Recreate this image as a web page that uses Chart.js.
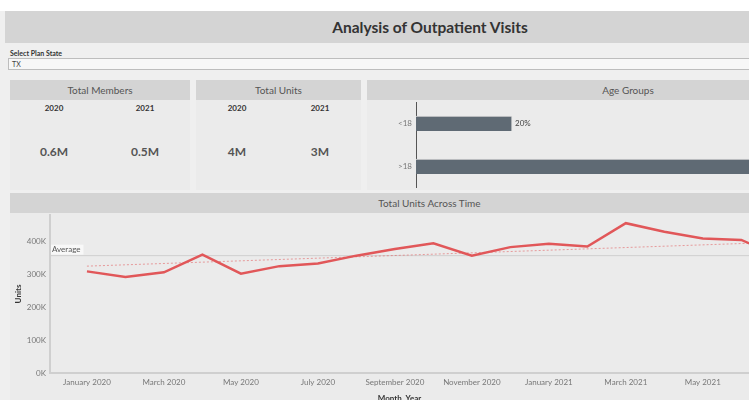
<!DOCTYPE html>
<html lang="en">
<head>
<meta charset="UTF-8" />
<title>Analysis of Outpatient Visits</title>
<script src="https://cdn.jsdelivr.net/npm/chart.js@4.4.1/dist/chart.umd.min.js"></script>
<style>
  html, body { margin: 0; padding: 0; }
  body { width: 749px; height: 400px; overflow: hidden; position: relative; background: #efefef; font-family: Lato, "Open Sans", sans-serif; }
  .abs { position: absolute; }
  .band { background: #d4d4d4; color: #555; font-size: 10px; text-align: center; }
  .yr { font-size: 8px; font-weight: bold; color: #333; width: 60px; text-align: center; }
  .kpi { font-size: 12px; font-weight: bold; color: #555; width: 60px; text-align: center; }
</style>
</head>
<body>
  <div class="abs" style="left:0;top:0;width:749px;height:11px;background:#fff"></div>
  <div class="abs band" style="left:5px;top:11px;width:744px;height:32px;line-height:32px;font-size:15.5px;font-weight:bold;color:#333;text-indent:106px">Analysis of Outpatient Visits</div>
  <div class="abs" style="left:10px;top:49px;font-size:7px;font-weight:bold;color:#333">Select Plan State</div>
  <div class="abs" style="left:8px;top:58px;width:745px;height:10px;background:#f7f7f7;border:1px solid #bdbdbd;font-size:7px;line-height:10px;color:#444;text-indent:3px">TX</div>

  <div class="abs" style="left:10px;top:100px;width:180px;height:90px;background:#ebebeb"></div>
  <div class="abs" style="left:196px;top:100px;width:165px;height:90px;background:#ebebeb"></div>
  <div class="abs" style="left:367px;top:100px;width:382px;height:90px;background:#ebebeb"></div>
  <div class="abs band" style="left:10px;top:80px;width:180px;height:20px;line-height:20px">Total Members</div>
  <div class="abs band" style="left:196px;top:80px;width:165px;height:20px;line-height:20px">Total Units</div>
  <div class="abs band" style="left:367px;top:80px;width:382px;height:20px;line-height:20px;text-indent:140px">Age Groups</div>

  <div class="abs yr" style="left:24px;top:103px">2020</div>
  <div class="abs yr" style="left:115px;top:103px">2021</div>
  <div class="abs yr" style="left:207px;top:103px">2020</div>
  <div class="abs yr" style="left:290px;top:103px">2021</div>
  <div class="abs kpi" style="left:24px;top:144px">0.6M</div>
  <div class="abs kpi" style="left:115px;top:144px">0.5M</div>
  <div class="abs kpi" style="left:207px;top:144px">4M</div>
  <div class="abs kpi" style="left:290px;top:144px">3M</div>

  <div class="abs" style="left:367px;top:102px;width:440px;height:86px"><canvas id="ageChart"></canvas></div>

  <div class="abs" style="left:10px;top:193px;width:739px;height:210px;background:#ebebeb"></div>
  <div class="abs band" style="left:10px;top:193px;width:739px;height:20px;line-height:20px;text-indent:100px">Total Units Across Time</div>
  <div class="abs" style="left:10px;top:213px;width:739px;height:190px"><canvas id="unitsChart"></canvas></div>

<script>
const months = [
  "January 2020", "February 2020", "March 2020", "April 2020", "May 2020", "June 2020",
  "July 2020", "August 2020", "September 2020", "October 2020", "November 2020", "December 2020",
  "January 2021", "February 2021", "March 2021", "April 2021", "May 2021", "June 2021", "July 2021"
];
const units = [
  310000, 293000, 307000, 361000, 303000, 326000,
  334000, 358000, 378000, 396000, 358000, 384000,
  394000, 386000, 457000, 431000, 410000, 406000, 355000
];
const averageUnits = 358000;
const trendEnds = [326000, 399000];
const yTicks = [0, 100000, 200000, 300000, 400000];

const ageGroups = ["<18", ">18"];
const agePct = [20, 80];

const red = "#e15759";
const grayText = "#777";
const tickFont = { family: "Lato, 'Open Sans', sans-serif", size: 8 };

// drop the half-label padding chart.js adds above/below vertical axes
function noVPad(s) {
  s.paddingTop = 0;
  s.paddingBottom = 0;
}

// age groups bars
new Chart(document.getElementById("ageChart"), {
  type: "bar",
  data: {
    labels: ageGroups,
    datasets: [{ data: agePct, backgroundColor: "#5f6a74", borderColor: "#d8d8d8", borderWidth: { top: 1, right: 1, bottom: 0, left: 0 }, barThickness: 15 }]
  },
  options: {
    indexAxis: "y",
    responsive: true,
    maintainAspectRatio: false,
    animation: false,
    layout: { padding: { top: 0, right: 7, bottom: 0, left: 0 } },
    plugins: { legend: { display: false }, tooltip: { enabled: false } },
    scales: {
      x: { display: false, min: 0, max: 80 },
      y: {
        afterFit: (s) => { s.width = 49; noVPad(s); },
        grid: { display: false, drawTicks: false },
        border: { color: "#555", width: 1 },
        ticks: { color: grayText, font: tickFont, padding: 4 }
      }
    }
  },
  plugins: [{
    id: "barLabels",
    afterDatasetsDraw(chart) {
      const ctx = chart.ctx;
      const meta = chart.getDatasetMeta(0);
      ctx.save();
      ctx.font = "8px Lato, 'Open Sans', sans-serif";
      ctx.fillStyle = "#444";
      ctx.textBaseline = "middle";
      meta.data.forEach((bar, i) => {
        ctx.fillText(agePct[i] + "%", bar.x + 3, bar.y);
      });
      ctx.restore();
    }
  }]
});

// units across time
const monthPoints = units.map((v, i) => ({ x: i, y: v }));
const trendPoints = [{ x: 0, y: trendEnds[0] }, { x: units.length - 1, y: trendEnds[1] }];

new Chart(document.getElementById("unitsChart"), {
  type: "line",
  data: {
    datasets: [
      { data: monthPoints, borderColor: red, borderWidth: 2.5, pointRadius: 0, tension: 0 },
      { data: trendPoints, borderColor: "rgba(225,87,89,0.55)", borderWidth: 1, borderDash: [2, 2], pointRadius: 0 }
    ]
  },
  options: {
    responsive: true,
    maintainAspectRatio: false,
    animation: false,
    layout: { padding: { top: 2, right: 0, bottom: 0, left: 0 } },
    plugins: { legend: { display: false }, tooltip: { enabled: false } },
    scales: {
      x: {
        type: "linear",
        min: -0.96,
        max: 17.2,
        afterFit: (s) => { s.height = 30; },
        grid: { display: false, drawTicks: false },
        border: { color: "#cfcfcf", width: 2 },
        ticks: {
          stepSize: 2,
          includeBounds: false,
          maxRotation: 0,
          autoSkip: false,
          color: grayText,
          font: tickFont,
          padding: 5,
          callback: (v) => months[v] || ""
        },
        title: { display: true, text: "Month, Year", color: "#333", font: { ...tickFont, weight: "bold" }, padding: 0 }
      },
      y: {
        min: 0,
        max: 482000,
        afterFit: (s) => { s.width = 40; noVPad(s); },
        afterBuildTicks: (s) => { s.ticks = yTicks.map((v) => ({ value: v })); },
        grid: { display: false, drawTicks: false },
        border: { color: "#cfcfcf", width: 2 },
        ticks: {
          color: grayText,
          font: tickFont,
          padding: 4,
          callback: (v) => (v / 1000) + "K"
        },
        title: { display: true, text: "Units", color: "#333", font: { ...tickFont, weight: "bold" }, padding: 4 }
      }
    }
  },
  plugins: [{
    id: "averageLine",
    beforeDatasetsDraw(chart) {
      const { ctx, chartArea } = chart;
      const y = chart.scales.y.getPixelForValue(averageUnits);
      ctx.save();
      ctx.strokeStyle = "#cfcfcf";
      ctx.lineWidth = 1;
      ctx.beginPath();
      ctx.moveTo(chartArea.left, y);
      ctx.lineTo(chartArea.right, y);
      ctx.stroke();
      ctx.font = "8px Lato, 'Open Sans', sans-serif";
      const w = ctx.measureText("Average").width + 4;
      ctx.fillStyle = "rgba(250,250,250,0.85)";
      ctx.fillRect(chartArea.left + 1, y - 11, w, 10);
      ctx.fillStyle = "#555";
      ctx.textBaseline = "middle";
      ctx.fillText("Average", chartArea.left + 2, y - 6);
      ctx.restore();
    }
  }]
});
</script>
</body>
</html>
